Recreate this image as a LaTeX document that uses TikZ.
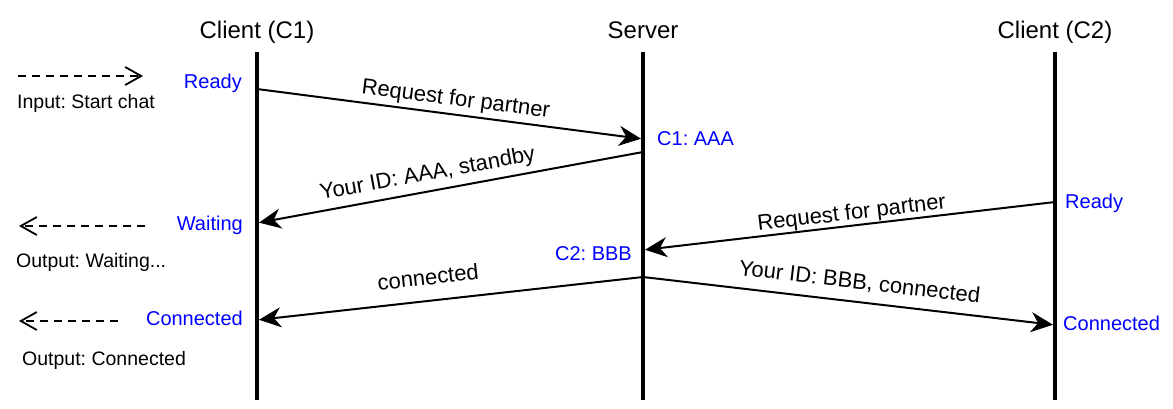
\documentclass[tikz,border=0pt]{standalone}
\usepackage{fontspec}
\setmainfont{Liberation Sans}
\usetikzlibrary{positioning, arrows.meta}
\frenchspacing

\begin{document}
\begin{tikzpicture}[x=1pt, y=-1pt]
  \tikzset{
    title/.style={font=\fontsize{24}{28}\selectfont, anchor=base},
    state/.style={font=\fontsize{20}{24}\selectfont, text=blue, inner sep=0pt},
    note/.style={font=\fontsize{19.5}{23}\selectfont, inner sep=0pt, anchor=base west},
    lifeline/.style={line width=4pt},
    msg/.style={line width=2pt, shorten >=2pt, -{Stealth[length=22pt, width=20pt, inset=7pt]}},
    msglabel/.style={font=\fontsize{22}{26}\selectfont, sloped, anchor=south, text depth=0pt, inner xsep=0pt}, % baseline sits inner ysep above the line
    hint/.style={line width=1.8pt, dash pattern=on 8pt off 6pt, -{Straight Barb[length=16pt, width=18pt]}},
  }
  \useasboundingbox (0,0) rectangle (1173,408);

  % lifelines
  \node[title] (c1) at (257,38) {Client (C1)};
  \node[title] (srv) at (643,38) {Server};
  \node[title] (c2) at (1055,38) {Client (C2)};
  \foreach \n/\x in {c1/257, srv/643, c2/1055} {
    \coordinate (\n top) at (\x,52);
    \coordinate (\n bot) at (\x,400);
    \draw[lifeline] (\n top) -- (\n bot);
  }

  % points on the lifelines
  \coordinate (c1 req) at (257,89);
  \coordinate (srv req1) at (643,139);
  \coordinate (srv id1) at (643,152);
  \coordinate (c1 wait) at (257,223);
  \coordinate (c2 req) at (1055,202);
  \coordinate (srv req2) at (643,250);
  \coordinate (srv conn) at (643,277);
  \coordinate (c1 conn) at (257,320);
  \coordinate (c2 conn) at (1055,325);

  % messages
  \draw[msg] (c1 req) -- node[msglabel, pos=0.51, inner ysep=8pt] {Request for partner} (srv req1);
  \draw[msg] (srv id1) -- node[msglabel, pos=0.55, inner ysep=10pt] {Your ID: AAA, standby} (c1 wait);
  \draw[msg] (c2 req) -- node[msglabel, pos=0.49, inner ysep=5pt] {Request for partner} (srv req2);
  \draw[msg] (srv conn) -- node[msglabel, pos=0.55, inner ysep=15pt] {connected} (c1 conn);
  \draw[msg] (srv conn) -- node[msglabel, pos=0.52, inner ysep=12pt] {Your ID: BBB, connected} (c2 conn);

  % states
  \node[state, anchor=base east] (c1 ready) at (242,88) {Ready};
  \node[state, anchor=base west] (srv aaa) at (657,145) {C1: AAA};
  \node[state, anchor=base east] (c1 waiting) at (243,230) {Waiting};
  \node[state, anchor=base west] (c2 ready) at (1065,208) {Ready};
  \node[state, anchor=base east] (srv bbb) at (632,260) {C2: BBB};
  \node[state, anchor=base east] (c1 connected) at (243,325) {Connected};
  \node[state, anchor=base west] (c2 connected) at (1063,330) {Connected};

  % user input / output
  \coordinate (in a) at (18,76);
  \coordinate (in b) at (143,76);
  \coordinate (wait a) at (145,226);
  \coordinate (wait b) at (19,226);
  \coordinate (conn a) at (118,321);
  \coordinate (conn b) at (19,321);
  \draw[hint] (in a) -- (in b);
  \draw[hint] (wait a) -- (wait b);
  \draw[hint] (conn a) -- (conn b);
  \node[note] (input) at (17,108) {Input: Start chat};
  \node[note] (out wait) at (16,267) {Output: Waiting...};
  \node[note] (out conn) at (22,365) {Output: Connected};
\end{tikzpicture}
\end{document}
